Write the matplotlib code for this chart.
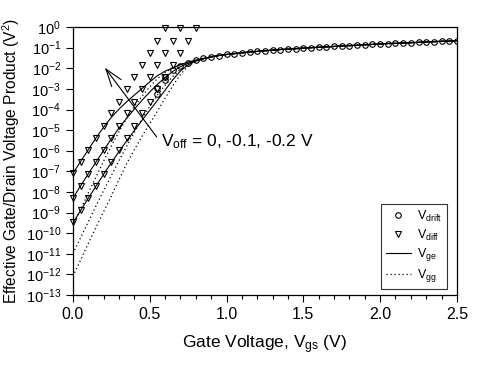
import numpy as np
import matplotlib
matplotlib.use("Agg")
import matplotlib.pyplot as plt
from matplotlib.lines import Line2D
from matplotlib.ticker import FixedLocator, MultipleLocator

plt.rcParams['font.family'] = ['Liberation Sans', 'DejaVu Sans']
plt.rcParams['mathtext.fontset'] = 'custom'
plt.rcParams['mathtext.rm'] = 'Liberation Sans'
plt.rcParams['mathtext.it'] = 'Liberation Sans'

# values are log10 of the quantity
diff_x1 = [0.0, 0.05, 0.1, 0.15, 0.2, 0.25, 0.3, 0.35, 0.4, 0.45, 0.5, 0.55, 0.6]
diff_y1 = [-7.1, -6.55, -5.97, -5.36, -4.79, -4.19, -3.63, -3.02, -2.44, -1.86, -1.25, -0.67, -0.03]
diff_x2 = [0.0, 0.05, 0.1, 0.15, 0.2, 0.25, 0.3, 0.35, 0.4, 0.45, 0.5, 0.55, 0.6, 0.65, 0.7]
diff_y2 = [-8.3, -7.7, -7.12, -6.55, -5.97, -5.36, -4.79, -4.19, -3.63, -3.02, -2.44, -1.86,
           -1.25, -0.67, -0.03]
diff_x3 = [0.0, 0.05, 0.1, 0.15, 0.2, 0.25, 0.3, 0.35, 0.4, 0.45, 0.5, 0.55, 0.6, 0.65, 0.7,
           0.75, 0.8]
diff_y3 = [-9.48, -8.88, -8.3, -7.7, -7.12, -6.55, -5.97, -5.36, -4.79, -4.19, -3.63, -3.02,
           -2.44, -1.86, -1.25, -0.67, -0.03]

drift_x = [0.55, 0.6, 0.65, 0.7, 0.75, 0.8, 0.85, 0.9, 0.95, 1.0, 1.05, 1.1, 1.15, 1.2, 1.25,
           1.3, 1.35, 1.4, 1.45, 1.5, 1.55, 1.6, 1.65, 1.7, 1.75, 1.8, 1.85, 1.9, 1.95, 2.0,
           2.05, 2.1, 2.15, 2.2, 2.25, 2.3, 2.35, 2.4, 2.45, 2.5]
drift_y = [-2.95, -2.4, -2.1, -1.89, -1.72, -1.6, -1.52, -1.45, -1.38, -1.33, -1.29, -1.25,
           -1.21, -1.18, -1.15, -1.12, -1.09, -1.07, -1.05, -1.02, -1.0, -0.98, -0.96, -0.94,
           -0.92, -0.9, -0.88, -0.86, -0.84, -0.82, -0.8, -0.79, -0.77, -0.76, -0.74, -0.72,
           -0.71, -0.69, -0.68, -0.66]
drift_lo_x = [0.55, 0.6]
drift_lo_y = [-3.25, -2.57]

# low-voltage part of the curves, x = 0 .. 0.85
curve_x = [0.0, 0.05, 0.1, 0.15, 0.2, 0.25, 0.3, 0.35, 0.4, 0.45, 0.5, 0.55, 0.6, 0.65, 0.7,
           0.75, 0.8, 0.85]
vge_1 = [-7.1, -6.52, -5.95, -5.38, -4.85, -4.38, -3.98, -3.62, -3.3, -2.98, -2.66, -2.36,
         -2.14, -1.98, -1.82, -1.7, -1.6, -1.52]
vge_2 = [-8.3, -7.7, -7.12, -6.55, -5.98, -5.42, -4.9, -4.42, -3.98, -3.55, -3.15, -2.78,
         -2.45, -2.15, -1.92, -1.75, -1.63, -1.53]
vge_3 = [-9.5, -8.9, -8.3, -7.72, -7.14, -6.58, -6.04, -5.52, -5.02, -4.52, -4.04, -3.56,
         -3.06, -2.56, -2.13, -1.83, -1.65, -1.54]
vgg_1 = [-9.65, -8.85, -8.05, -7.27, -6.5, -5.77, -5.07, -4.42, -3.85, -3.35, -2.9, -2.5,
         -2.2, -1.99, -1.82, -1.7, -1.6, -1.52]
vgg_2 = [-11.0, -10.22, -9.45, -8.68, -7.93, -7.2, -6.48, -5.78, -5.1, -4.45, -3.85, -3.3,
         -2.82, -2.4, -2.05, -1.8, -1.64, -1.53]
vgg_3 = [-12.1, -11.3, -10.5, -9.72, -8.95, -8.2, -7.4, -6.62, -5.95, -5.3, -4.68, -4.08,
         -3.45, -2.85, -2.3, -1.9, -1.66, -1.54]

# above 0.85 V every curve runs along the drift points
tail_x = drift_x[7:]
tail_y = drift_y[7:]

y_ticks = list(range(-13, 1))


def full(y):
    return np.array(curve_x + tail_x), 10.0 ** np.array(y + tail_y)


fig = plt.figure(figsize=(4.83, 3.66), dpi=100)
ax = fig.add_axes([0.151, 0.194, 0.795, 0.732])

for y in (vgg_1, vgg_2, vgg_3):
    xs, ys = full(y)
    ax.plot(xs, ys, color='black', lw=0.9, ls=(0, (1, 2.2)))
for y in (vge_1, vge_2, vge_3):
    xs, ys = full(y)
    ax.plot(xs, ys, color='black', lw=0.8)

for dx, dy in ((diff_x1, diff_y1), (diff_x2, diff_y2), (diff_x3, diff_y3)):
    ax.plot(dx, 10.0 ** np.array(dy), ls='none', marker='v', ms=5, mfc='none',
            mec='black', mew=0.8, clip_on=False)
ax.plot(drift_x, 10.0 ** np.array(drift_y), ls='none', marker='o', ms=4, mfc='none',
        mec='black', mew=0.8)
ax.plot(drift_lo_x, 10.0 ** np.array(drift_lo_y), ls='none', marker='o', ms=4, mfc='none',
        mec='black', mew=0.8)

ax.annotate('', xy=(0.208, 10 ** -1.97), xytext=(0.545, 10 ** -5.33),
            arrowprops=dict(arrowstyle='->,head_length=0.9,head_width=0.3', lw=0.8,
                            color='black', shrinkA=0, shrinkB=0, mutation_scale=14))
ax.text(0.575, 10 ** -5.58, r'V$_{\mathregular{off}}$ = 0, -0.1, -0.2 V', fontsize=12.5,
        va='center', ha='left')

ax.set_yscale('log')
ax.set_xlim(0, 2.5)
ax.set_ylim(1e-13, 1)
ax.xaxis.set_major_locator(MultipleLocator(0.5))
ax.xaxis.set_minor_locator(MultipleLocator(0.1))
ax.yaxis.set_major_locator(FixedLocator([10.0 ** k for k in y_ticks]))
ax.yaxis.set_minor_locator(FixedLocator([]))
ax.set_yticklabels([r'$\mathregular{10^{%d}}$' % k for k in y_ticks])
ax.set_xticklabels(['%.1f' % v for v in ax.get_xticks()])
ax.tick_params(which='both', direction='out', top=False, right=False)
ax.tick_params(axis='x', labelsize=11.5)
ax.tick_params(axis='y', labelsize=10.5)
ax.tick_params(which='major', length=5, width=0.8)
ax.tick_params(which='minor', length=3, width=0.8)
for s in ax.spines.values():
    s.set_linewidth(0.9)

ax.set_xlabel(r'Gate Voltage, V$_{\mathregular{gs}}$ (V)', fontsize=12.5, labelpad=8)
ax.set_ylabel(r'Effective Gate/Drain Voltage Product (V$^{\mathregular{2}}$)', fontsize=11.2,
              labelpad=3)

handles = [
    Line2D([], [], ls='none', marker='o', ms=4, mfc='none', mec='black', mew=0.8),
    Line2D([], [], ls='none', marker='v', ms=5, mfc='none', mec='black', mew=0.8),
    Line2D([], [], color='black', lw=0.8),
    Line2D([], [], color='black', lw=0.9, ls=(0, (1, 2.2))),
]
labels = [r'V$_{\mathregular{drift}}$', r'V$_{\mathregular{diff}}$', r'V$_{\mathregular{ge}}$',
          r'V$_{\mathregular{gg}}$']
leg = ax.legend(handles, labels, loc='lower right', bbox_to_anchor=(0.974, 0.022),
                borderaxespad=0, fontsize=9, frameon=True, fancybox=False,
                edgecolor='black', handlelength=2.0, handletextpad=0.5,
                labelspacing=0.3, borderpad=0.4)
leg.get_frame().set_linewidth(0.8)

fig.savefig('out.png', dpi=100)
